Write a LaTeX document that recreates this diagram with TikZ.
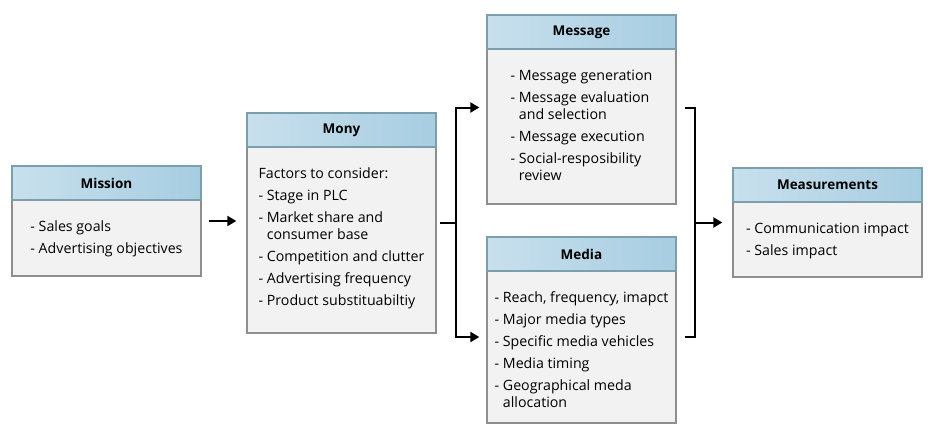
\documentclass[tikz,border=0pt]{standalone}
\usepackage{fontspec}
\setmainfont{Open Sans}
\usetikzlibrary{arrows.meta,calc}

\definecolor{cardfill}{HTML}{F2F2F2}
\definecolor{cardline}{HTML}{8E8E8E}
\definecolor{headleft}{HTML}{C8E0ED}
\definecolor{headright}{HTML}{A7CDE1}
\definecolor{headline}{HTML}{7C9FAD}

\tikzset{
  card/.style={draw=cardline, fill=cardfill, line width=1.3pt,
    minimum width=189pt, inner sep=0pt},
  cardhead/.style={draw=headline, left color=headleft, right color=headright,
    line width=1.3pt, minimum width=189pt, minimum height=34pt, inner sep=0pt,
    anchor=north, font=\bfseries\fontsize{13.5}{15}\selectfont},
  cardtext/.style={anchor=north, align=left, inner sep=0pt,
    font=\fontsize{14.2}{17}\selectfont},
  link/.style={line width=2pt},
  flow/.style={line width=2pt, -{Triangle[length=9pt,width=10pt]}},
}

% gap between list items, first-line strut, hanging indent of wrapped lines
\newcommand\itemgap{\\[5pt]}
\newcommand\firstline{\rule{0pt}{13pt}}
\newcommand\wrapind{\phantom{-~}}

\begin{document}
\begin{tikzpicture}[x=1pt,y=-1pt]
  \useasboundingbox (0,0) rectangle (932,434);

  % Mission
  \node[card, minimum height=110pt] (misb) at (106.5,221) {};
  \node[cardhead] (mish) at (misb.north) {Mission};
  \node[cardtext] (mist) at ($(misb.north)+(0,53)$)
    {\firstline- Sales goals\itemgap - Advertising objectives};

  % Mony
  \node[card, minimum height=220pt] (monb) at (341.5,223) {};
  \node[cardhead] (monh) at (monb.north) {Mony};
  \node[cardtext] (mont) at ($(monb.north)+(0,53)$)
    {\firstline Factors to consider:\itemgap
     - Stage in PLC\itemgap
     - Market share and\\ \wrapind consumer base\itemgap
     - Competition and clutter\itemgap
     - Advertising frequency\itemgap
     - Product substituabiltiy};

  % Message
  \node[card, minimum height=189pt] (msgb) at (581.5,109.5) {};
  \node[cardhead] (msgh) at (msgb.north) {Message};
  \node[cardtext] (msgt) at ($(msgb.north)+(0,53)$)
    {\firstline- Message generation\itemgap
     - Message evaluation\\ \wrapind and selection\itemgap
     - Message execution\itemgap
     - Social-resposibility\\ \wrapind review};

  % Media
  \node[card, minimum height=186pt] (medb) at (581.5,330) {};
  \node[cardhead] (medh) at (medb.north) {Media};
  \node[cardtext] (medt) at ($(medb.north)+(0,53)$)
    {\firstline- Reach, frequency, imapct\itemgap
     - Major media types\itemgap
     - Specific media vehicles\itemgap
     - Media timing\itemgap
     - Geographical meda\\ \wrapind allocation};

  % Measurements
  \node[card, minimum height=109pt] (meab) at (827.5,222.5) {};
  \node[cardhead] (meah) at (meab.north) {Measurements};
  \node[cardtext] (meat) at ($(meab.north)+(0,53)$)
    {\firstline- Communication impact\itemgap - Sales impact};

  % Mission -> Mony
  \draw[flow] ([xshift=7pt]misb.east) -- ([xshift=-10pt]monb.west |- misb.east);

  % Mony splits to Message and Media
  \coordinate (split) at ($(monb.east)+(19,0)$);
  \coordinate (msgin) at ($(msgb.west)+(-7,-2)$);
  \coordinate (medin) at ($(medb.west)+(-7,7)$);
  \draw[link] ([xshift=3pt]monb.east) -- (split);
  \draw[flow] (split) |- (msgin);
  \draw[flow] (split) |- (medin);

  % Message and Media join into Measurements
  \coordinate (msgout) at ($(msgb.east)+(8,-2)$);
  \coordinate (medout) at ($(medb.east)+(8,7)$);
  \coordinate (join) at ($(msgb.east |- meab.west)+(18,0)$);
  \draw[link] (msgout) -| (join |- msgout) -- (join |- medout) -- (medout);
  \draw[flow] (join) -- ([xshift=-10pt]meab.west);
\end{tikzpicture}
\end{document}
